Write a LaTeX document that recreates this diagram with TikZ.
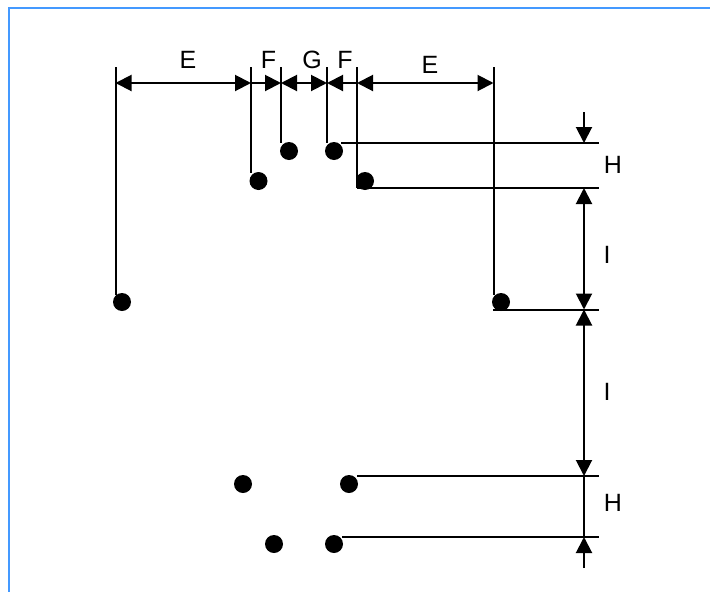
\documentclass[tikz,border=0pt]{standalone}
\usepackage{fontspec}
\setmainfont{Liberation Sans}
\usetikzlibrary{arrows.meta}
\definecolor{framecol}{RGB}{68,153,255}
\tikzset{
	ball/.style={circle, fill=black, inner sep=0pt, minimum size=18pt},
	ext/.style={line width=2pt},
	dim/.style={line width=2pt, >={Triangle[length=16pt,width=16pt]}},
	lab/.style={font=\fontsize{25}{25}\selectfont, inner sep=0pt}
}
\begin{document}
\begin{tikzpicture}[x=1pt, y=-1pt]
		\useasboundingbox (0,0) rectangle (710,592);
		% frame
		\coordinate (f1) at (9,592);
		\coordinate (f2) at (9,8);
		\coordinate (f3) at (710,8);
		\draw[framecol, line width=2.5pt] (f1) -- (f2) -- (f3);

		% upper balls
		\node[ball] (1) at (122,302){};
		\node[ball] (2) at (258.5,181){};
		\node[ball] (3) at (289,151){};
		\node[ball] (4) at (334,151){};
		\node[ball] (5) at (365,181){};
		\node[ball] (6) at (501,302){};
		% lower balls
		\node[ball] (7) at (243,484){};
		\node[ball] (8) at (349,484){};
		\node[ball] (9) at (274,544){};
		\node[ball] (10) at (334,544){};

		% top ends of the vertical lines, on the dimension row
		\coordinate (t1) at (115.5,67);
		\coordinate (t2) at (251,67);
		\coordinate (t3) at (281,67);
		\coordinate (t4) at (327,67);
		\coordinate (t5) at (357,67);
		\coordinate (t6) at (493.5,67);
		\coordinate (b1) at (115.5,295);
		\coordinate (b2) at (251,173);
		\coordinate (b3) at (281,143);
		\coordinate (b4) at (327,143);
		\coordinate (b5) at (357,188);
		\coordinate (b6) at (493.5,295);
		\draw[ext] (t1) -- (b1);
		\draw[ext] (t2) -- (b2);
		\draw[ext] (t3) -- (b3);
		\draw[ext] (t4) -- (b4);
		\draw[ext] (t5) -- (b5);
		\draw[ext] (t6) -- (b6);

		% horizontal lines to the right
		\coordinate (h1a) at (341,143);
		\coordinate (h1b) at (599,143);
		\coordinate (h2b) at (599,188);
		\coordinate (h3a) at (493,309.5);
		\coordinate (h3b) at (599,309.5);
		\coordinate (h4a) at (357,476);
		\coordinate (h4b) at (599,476);
		\coordinate (h5a) at (342,537);
		\coordinate (h5b) at (599,537);
		\draw[ext] (h1a) -- (h1b);
		\draw[ext] (b5) -- (h2b);
		\draw[ext] (h3a) -- (h3b);
		\draw[ext] (h4a) -- (h4b);
		\draw[ext] (h5a) -- (h5b);

		% dimension row
		\coordinate (d1) at (115.5,83);
		\coordinate (d2) at (251,83);
		\coordinate (d3) at (281,83);
		\coordinate (d4) at (327,83);
		\coordinate (d5) at (357,83);
		\coordinate (d6) at (493.5,83);
		\draw[dim, <->] (d1) -- (d2);
		\draw[dim, ->] (d2) -- (d3);
		\draw[dim, <->] (d3) -- (d4);
		\draw[dim, <-] (d4) -- (d5);
		\draw[dim, <->] (d5) -- (d6);

		% dimension column
		\coordinate (c0) at (584,112);
		\coordinate (c1) at (584,143);
		\coordinate (c2) at (584,188);
		\coordinate (c3) at (584,309.5);
		\coordinate (c4) at (584,476);
		\coordinate (c5) at (584,537);
		\coordinate (c6) at (584,568);
		\draw[dim, ->] (c0) -- (c1);
		\draw[dim, <->] (c2) -- (c3);
		\draw[dim, <->] (c3) -- (c4);
		\draw[dim] (c4) -- (c5);
		\draw[dim, ->] (c6) -- (c5);

		\node[lab] (l1) at (188,60) {E};
		\node[lab] (l2) at (268.5,60) {F};
		\node[lab] (l3) at (312,60) {G};
		\node[lab] (l4) at (345,60) {F};
		\node[lab] (l5) at (430,65) {E};
		\node[lab] (l6) at (613,165) {H};
		\node[lab] (l7) at (607,255) {I};
		\node[lab] (l8) at (607,392) {I};
		\node[lab] (l9) at (613,503) {H};
	\end{tikzpicture}
\end{document}
